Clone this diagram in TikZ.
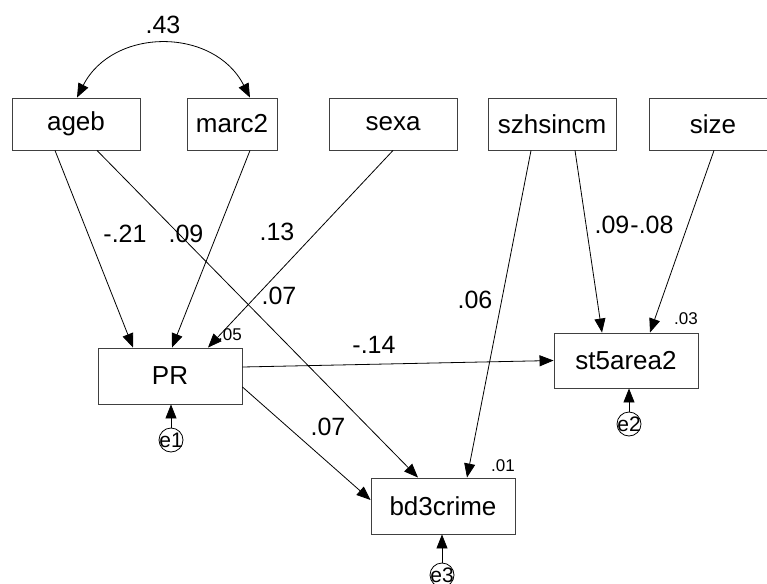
\documentclass[tikz,border=0pt]{standalone}
\usepackage{fontspec}
\setmainfont{Liberation Sans}
\usetikzlibrary{arrows.meta}
\begin{document}
\begin{tikzpicture}[x=1pt,y=-1pt,
  box/.style={draw=black!75, line width=0.9pt, inner sep=0pt, font=\fontsize{26}{28}\selectfont},
  topbox/.style={box, minimum width=128pt, minimum height=52pt},
  midbox/.style={box, minimum width=144pt, minimum height=56pt},
  lab/.style={font=\fontsize{25}{27}\selectfont, inner sep=0pt},
  slab/.style={font=\fontsize{17}{19}\selectfont, inner sep=0pt},
  arr/.style={draw, line width=0.8pt, -{Triangle[length=14pt,width=11pt]}},
  dblarr/.style={draw, line width=0.8pt, {Triangle[length=14pt,width=11pt]}-{Triangle[length=14pt,width=11pt]}},
  ecirc/.style={circle, draw, line width=0.8pt, minimum size=24pt, inner sep=0pt},
  etxt/.style={font=\fontsize{21}{22}\selectfont, inner sep=0pt}]
\useasboundingbox (0,0) rectangle (767,583);
% top row
\node[topbox] (ageb) at (76,124) {ageb};
\node[box, minimum width=90pt, minimum height=52pt] (marc2) at (232,124) {marc2};
\node[topbox] (sexa) at (393,124) {sexa};
\node[topbox] (szh) at (552,124) {szhsincm};
\node[topbox] (size) at (713,124) {size};
% endogenous
\node[midbox] (PR) at (170,376) {PR};
\node[midbox, minimum height=55pt] (st5) at (626,360.5) {st5area2};
\node[midbox] (bd3) at (443,506) {bd3crime};
% errors
\node[ecirc] (e1) at (171,440) {};
\node[etxt] (e1t) at (e1) {e1};
\node[ecirc] (e2) at (629,424) {};
\node[etxt] (e2t) at (e2) {e2};
\node[ecirc] (e3) at (442,575) {};
\node[etxt] (e3t) at (e3) {e3};
% covariance
\draw[dblarr] ([xshift=1pt]ageb.north) .. controls (113,27) and (214,27) .. ([xshift=18pt]marc2.north);
\node[lab] (c43) at (163,25) {.43};
% paths
\draw[arr] ([xshift=-21pt]ageb.south) -- ([xshift=-37pt]PR.north);
\draw[arr] ([xshift=21pt]ageb.south) -- ([xshift=-25pt]bd3.north);
\draw[arr] ([xshift=18pt]marc2.south) -- ([xshift=2pt]PR.north);
\draw[arr] (sexa.south) -- ([xshift=38pt]PR.north);
\draw[arr] ([xshift=-21pt]szh.south) -- ([xshift=24pt]bd3.north);
\draw[arr] ([xshift=23pt]szh.south) -- ([xshift=-24pt]st5.north);
\draw[arr] ([xshift=1pt]size.south) -- ([xshift=24pt]st5.north);
\draw[arr] ([yshift=9pt]PR.east) -- (st5.west);
\draw[arr] ([yshift=-11pt]PR.east) -- ([yshift=6pt]bd3.west);
\draw[arr] (e1.north) -- (e1.north |- PR.south);
\draw[arr] (e2.north) -- (e2.north |- st5.south);
\draw[arr] (e3.north) -- (e3.north |- bd3.south);
% labels
\node[lab] (l1) at (125,234) {-.21};
\node[lab] (l2) at (186,234) {.09};
\node[lab] (l3) at (277,232) {.13};
\node[lab] (l4) at (279,296) {.07};
\node[lab] (l5) at (374,345) {-.14};
\node[lab] (l6) at (328,427) {.07};
\node[lab] (l7) at (475,300) {.06};
\node[lab] (l8) at (612,225) {.09};
\node[lab] (l9) at (652,225) {-.08};
\node[slab] (r1) at (230,335) {.05};
\node[slab] (r2) at (686,319) {.03};
\node[slab] (r3) at (503,466) {.01};
\end{tikzpicture}
\end{document}
